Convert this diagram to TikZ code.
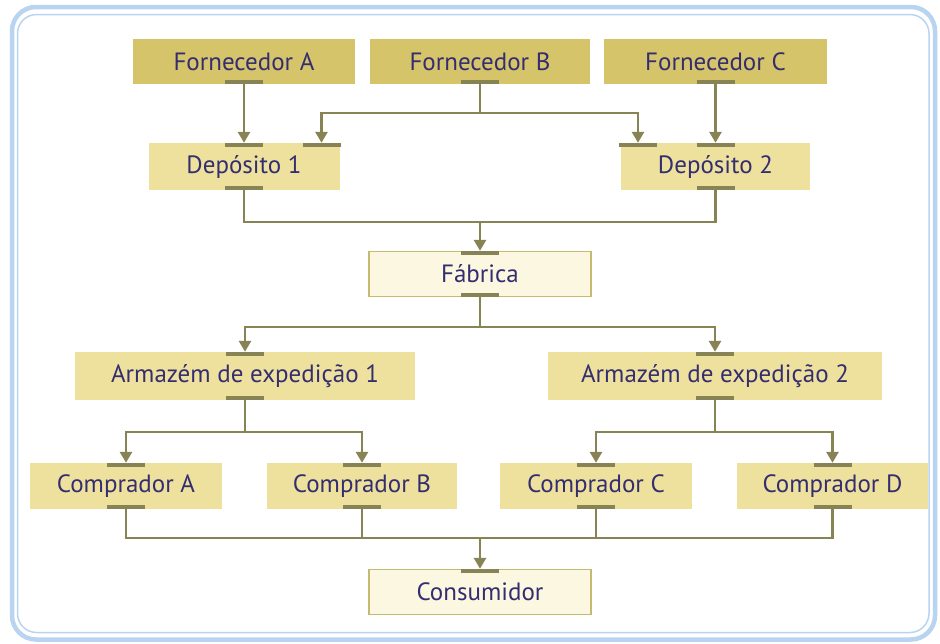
\documentclass[tikz,border=0pt]{standalone}
\usepackage{fontspec}
\setmainfont{PT Sans}
\usetikzlibrary{arrows.meta}
\definecolor{frameblue}{RGB}{184,212,240}
\definecolor{fdark}{RGB}{213,196,106}
\definecolor{fmid}{RGB}{238,225,158}
\definecolor{flight}{RGB}{251,247,224}
\definecolor{bline}{RGB}{196,186,112}
\definecolor{conncol}{RGB}{136,131,84}
\definecolor{txtcol}{RGB}{52,45,112}
\tikzset{
  box/.style={inner sep=0pt, text=txtcol, font=\fontsize{25}{30}\selectfont, anchor=center},
  darkbox/.style={box, fill=fdark},
  midbox/.style={box, fill=fmid},
  lightbox/.style={box, fill=flight, draw=bline, line width=1.4pt},
  conn/.style={draw=conncol, line width=2.8pt},
  arr/.style={conn, -{Triangle[width=12pt,length=11pt]}},
  tee/.style={draw=conncol, line width=4pt}
}
\newcommand{\teetop}[1]{\draw[tee] ([xshift=-19pt,yshift=-2pt]#1) -- ([xshift=19pt,yshift=-2pt]#1);}
\newcommand{\teebot}[1]{\draw[tee] ([xshift=-19pt,yshift=2pt]#1) -- ([xshift=19pt,yshift=2pt]#1);}
\begin{document}
\begin{tikzpicture}[x=1pt,y=-1pt]
\useasboundingbox (0,0) rectangle (940,643);
% frame
\draw[frameblue, line width=4.5pt, rounded corners=24pt] (12,7) rectangle (935,639.5);
\draw[frameblue, line width=1.5pt, rounded corners=19pt] (17.5,14.5) rectangle (929,632.5);
% nodes
\node[darkbox, minimum width=222pt, minimum height=45pt] (fA) at (244,61.5) {Fornecedor A};
\node[darkbox, minimum width=220pt, minimum height=45pt] (fB) at (480,61.5) {Fornecedor B};
\node[darkbox, minimum width=223pt, minimum height=45pt] (fC) at (715.5,61.5) {Fornecedor C};
\node[midbox, minimum width=191pt, minimum height=47pt] (d1) at (244,166.5) {Depósito 1};
\node[midbox, minimum width=189pt, minimum height=47pt] (d2) at (715.5,166.5) {Depósito 2};
\node[lightbox, minimum width=222pt, minimum height=45pt] (fab) at (480,274) {Fábrica};
\node[midbox, minimum width=340pt, minimum height=48pt] (a1) at (245,376) {Armazém de expedição 1};
\node[midbox, minimum width=334pt, minimum height=48pt] (a2) at (715,376) {Armazém de expedição 2};
\node[midbox, minimum width=192pt, minimum height=46pt] (cA) at (126,486) {Comprador A};
\node[midbox, minimum width=190pt, minimum height=46pt] (cB) at (362,486) {Comprador B};
\node[midbox, minimum width=192pt, minimum height=46pt] (cC) at (596,486) {Comprador C};
\node[midbox, minimum width=191pt, minimum height=46pt] (cD) at (832.5,486) {Comprador D};
\node[lightbox, minimum width=222pt, minimum height=45pt] (cons) at (480,592) {Consumidor};
% ports and junctions
\coordinate (d1b) at ([xshift=77.5pt]d1.north);
\coordinate (d2a) at ([xshift=-77.5pt]d2.north);
\coordinate (jB) at (480,113);
\coordinate (jD) at (480,222);
\coordinate (jF) at (480,327);
\coordinate (jA1) at (245,432);
\coordinate (jA2) at (715,432);
\coordinate (jC) at (480,538);
% connectors
\draw[arr] (fA.south) -- (d1.north);
\draw[arr] (fC.south) -- (d2.north);
\draw[conn] (fB.south) -- (jB);
\draw[arr] (jB) -| (d1b);
\draw[arr] (jB) -| (d2a);
\draw[conn] (d1.south) |- (jD) -| (d2.south);
\draw[arr] (jD) -- (fab.north);
\draw[conn] (fab.south) -- (jF);
\draw[arr] (jF) -| (a1.north);
\draw[arr] (jF) -| (a2.north);
\draw[conn] (a1.south) -- (jA1);
\draw[arr] (jA1) -| (cA.north);
\draw[arr] (jA1) -| (cB.north);
\draw[conn] (a2.south) -- (jA2);
\draw[arr] (jA2) -| (cC.north);
\draw[arr] (jA2) -| (cD.north);
\draw[conn] (cA.south) |- (jC) -| (cD.south);
\draw[conn] (cB.south) -- (cB.south |- jC);
\draw[conn] (cC.south) -- (cC.south |- jC);
\draw[arr] (jC) -- (cons.north);
% tee bars
\teebot{fA.south} \teebot{fB.south} \teebot{fC.south}
\teetop{d1.north} \teetop{d1b} \teebot{d1.south}
\teetop{d2a} \teetop{d2.north} \teebot{d2.south}
\teetop{fab.north} \teebot{fab.south}
\teetop{a1.north} \teebot{a1.south} \teetop{a2.north} \teebot{a2.south}
\teetop{cA.north} \teebot{cA.south} \teetop{cB.north} \teebot{cB.south}
\teetop{cC.north} \teebot{cC.south} \teetop{cD.north} \teebot{cD.south}
\teetop{cons.north}
\end{tikzpicture}
\end{document}
